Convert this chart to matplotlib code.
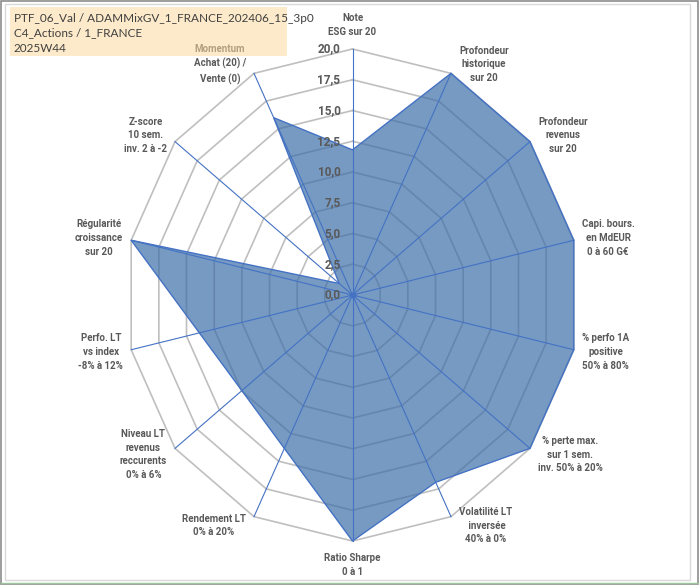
import numpy as np
import matplotlib as mpl
import matplotlib.pyplot as plt
from matplotlib.patches import Rectangle, Polygon

mpl.rcParams['font.family'] = ['Lato', 'DejaVu Sans']
BOLD_FONT = ['Roboto', 'DejaVu Sans']

# --- data ---
title_lines = ['PTF_06_Val / ADAMMixGV_1_FRANCE_202406_15_3p0',
               'C4_Actions / 1_FRANCE',
               '2025W44']

criteria = ['Note\nESG sur 20',
            'Profondeur\nhistorique\nsur 20',
            'Profondeur\nrevenus\nsur 20',
            'Capi. bours.\nen MdEUR\n0 à 60 G€',
            '% perfo 1A\npositive\n50% à 80%',
            '% perte max.\nsur 1 sem.\ninv. 50% à 20%',
            'Volatilité LT\n inversée\n40% à 0%',
            'Ratio Sharpe\n0 à 1',
            'Rendement LT\n0% à 20%',
            'Niveau LT\nrevenus\nreccurents\n0% à 6%',
            'Perfo. LT\nvs index\n-8% à 12%',
            'Régularité\ncroissance\nsur 20',
            'Z-score\n10 sem.\ninv. 2 à -2',
            'Momentum\nAchat (20) /\nVente (0)']

# None = #N/A in the sheet, skipped by the radar polygon
scores = [11.8, 20, 20, 20, 20, 20, 16.9, 20, None, None, None, 20, 1.5, 16]

ring_levels = [2.5, 5.0, 7.5, 10.0, 12.5, 15.0, 17.5, 20.0]
tick_levels = [0.0, 2.5, 5.0, 7.5, 10.0, 12.5, 15.0, 17.5, 20.0]
tick_labels = ['0,0', '2,5', '5,0', '7,5', '10,0', '12,5', '15,0', '17,5', '20,0']

# layout in pixels (Excel draws this radar slightly squashed horizontally)
W, H = 700, 586
CX, CY = 352.5, 295
RX, RY = 227, 246
R_MAX = 20.0

GRID = '#bfbfbf'
BLUE = '#4472c4'
TXT = '#595959'


def px(x, y):
    # pixel (y down) -> figure fraction
    return x / W, 1 - y / H


def draw_radar(ax):
    n = len(criteria)
    theta = np.pi / 2 - 2 * np.pi * np.arange(n) / n
    cs, sn = np.cos(theta), np.sin(theta)

    # rings
    for lvl in ring_levels:
        xs = np.append(lvl * cs, lvl * cs[0])
        ys = np.append(lvl * sn, lvl * sn[0])
        ax.plot(xs, ys, color=GRID, lw=1.2, zorder=1)

    # filled series
    pts = [(v * c, v * s) for v, c, s in zip(scores, cs, sn) if v is not None]
    ax.add_patch(Polygon(pts, closed=True, facecolor='#3e6fa8', alpha=0.7,
                         edgecolor='none', zorder=2))
    ax.add_patch(Polygon(pts, closed=True, facecolor='none',
                         edgecolor=BLUE, lw=1.0, zorder=3))

    # spokes
    for c, s in zip(cs, sn):
        ax.plot([0, R_MAX * c], [0, R_MAX * s], color=BLUE, lw=0.8, zorder=3)
    ax.plot([0], [0], 'o', color=BLUE, ms=3.5, zorder=4)

    # value axis labels along the top spoke
    for lvl, lab in zip(tick_levels, tick_labels):
        ax.annotate(lab, (0, lvl), xytext=(-12, 0), textcoords='offset pixels',
                    ha='right', va='center', fontsize=8.5, fontweight='bold',
                    family=BOLD_FONT, color=TXT, zorder=5)

    # category labels
    for k, (lab, c, s) in enumerate(zip(criteria, cs, sn)):
        tip = (R_MAX * c, R_MAX * s)
        if k == 0:
            off, ha, va = (0, 12), 'center', 'bottom'
        elif k == n // 2:
            off, ha, va = (0, -12), 'center', 'top'
        else:
            ha = 'left' if c > 0 else 'right'
            off, va = (8 * np.sign(c), 10 * s), 'center'
        ax.annotate(lab, tip, xytext=off, textcoords='offset pixels',
                    ha=ha, va=va, multialignment='center', linespacing=1.45,
                    fontsize=7, fontweight='bold', family=BOLD_FONT,
                    color=TXT, zorder=5)


fig = plt.figure(figsize=(W / 100, H / 100), dpi=100)
ax = fig.add_axes([0, 0, 1, 1])
ax.set_xlim(-CX / RX * R_MAX, (W - CX) / RX * R_MAX)
ax.set_ylim((CY - H) / RY * R_MAX, CY / RY * R_MAX)
ax.axis('off')

draw_radar(ax)

# chart frame
x0, y0 = px(1, 584)
fig.add_artist(Rectangle((x0, y0), 697 / W, 583 / H, transform=fig.transFigure,
                         fill=False, ec='#8c8c8c', lw=1.2, zorder=9))
x0, y0 = px(5, 580)
fig.add_artist(Rectangle((x0, y0), 685 / W, 576 / H, transform=fig.transFigure,
                         fill=False, ec='#d9d9d9', lw=1.0, zorder=9))
fig.add_artist(plt.Line2D([1 / W, 698 / W], [1 - 582.5 / H] * 2, transform=fig.transFigure,
                          color='#9cc59c', lw=1.0, zorder=9))

# title box (semi transparent, sits on top of the Momentum label)
x0, y0 = px(10, 56)
fig.add_artist(Rectangle((x0, y0), 277 / W, 49 / H, transform=fig.transFigure,
                         fc='#fcdaa0', alpha=0.55, ec='none', zorder=10))
for i, line in enumerate(title_lines):
    fx, fy = px(14, 18 + 15 * i)
    fig.text(fx, fy, line, ha='left', va='center', fontsize=8.5,
             color='#404040', zorder=11)

fig.savefig('out.png', dpi=100)
